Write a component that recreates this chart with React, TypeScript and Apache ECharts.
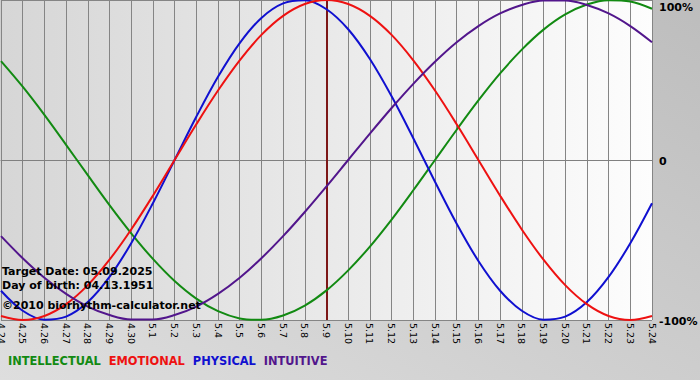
import { useEffect, useRef } from "react";
import * as echarts from "echarts";

const dates = [
  "4.24", "4.25", "4.26", "4.27", "4.28", "4.29", "4.30",
  "5.1", "5.2", "5.3", "5.4", "5.5", "5.6", "5.7", "5.8", "5.9", "5.10",
  "5.11", "5.12", "5.13", "5.14", "5.15", "5.16", "5.17", "5.18", "5.19",
  "5.20", "5.21", "5.22", "5.23", "5.24",
];

const intellectual = [
  0.618, 0.458, 0.282, 0.095, -0.095, -0.282, -0.458, -0.618, -0.756, -0.866,
  -0.945, -0.99, -0.999, -0.972, -0.91, -0.815, -0.69, -0.541, -0.372, -0.189,
  0, 0.189, 0.372, 0.541, 0.69, 0.815, 0.91, 0.972, 0.999, 0.99, 0.945,
];

const emotional = [
  -0.975, -1, -0.975, -0.901, -0.782, -0.623, -0.434, -0.223, 0, 0.223,
  0.434, 0.623, 0.782, 0.901, 0.975, 1, 0.975, 0.901, 0.782, 0.623,
  0.434, 0.223, 0, -0.223, -0.434, -0.623, -0.782, -0.901, -0.975, -1, -0.975,
];

const physical = [
  -0.817, -0.942, -0.998, -0.979, -0.888, -0.731, -0.52, -0.27, 0, 0.27,
  0.52, 0.731, 0.888, 0.979, 0.998, 0.942, 0.817, 0.631, 0.398, 0.136,
  -0.136, -0.398, -0.631, -0.817, -0.942, -0.998, -0.979, -0.888, -0.731, -0.52, -0.27,
];

const intuitive = [
  -0.476, -0.614, -0.736, -0.837, -0.916, -0.969, -0.997, -0.997, -0.969, -0.916,
  -0.837, -0.736, -0.614, -0.476, -0.325, -0.165, 0, 0.165, 0.325, 0.476,
  0.614, 0.736, 0.837, 0.916, 0.969, 0.997, 0.997, 0.969, 0.916, 0.837, 0.736,
];

const seriesNames = ["INTELLECTUAL", "EMOTIONAL", "PHYSICAL", "INTUITIVE"];
const seriesColors = ["#128a12", "#ee1111", "#1010d0", "#52168c"];
const richKeys = ["g", "r", "b", "p"];
const targetDate = "5.9";
const infoLines = [
  "Target Date: 05.09.2025",
  "Day of birth: 04.13.1951",
  "©2010 biorhythm-calculator.net",
];

const FONT = "DejaVu Sans";

export default function App() {
  const ref = useRef<HTMLDivElement>(null);

  useEffect(() => {
    if (!ref.current) return;
    const chart = echarts.init(ref.current, undefined, { renderer: "svg" });
    const dataByName: Record<string, number[]> = {
      INTELLECTUAL: intellectual,
      EMOTIONAL: emotional,
      PHYSICAL: physical,
      INTUITIVE: intuitive,
    };
    const drawOrder = ["INTELLECTUAL", "PHYSICAL", "EMOTIONAL", "INTUITIVE"];
    const series: any[] = drawOrder.map((name) => ({
      name,
      type: "line",
      data: dataByName[name],
      smooth: 0.35,
      symbol: "none",
      lineStyle: { width: 2, color: seriesColors[seriesNames.indexOf(name)] },
      itemStyle: { color: seriesColors[seriesNames.indexOf(name)] },
      z: 3,
    }));
    series[0].markLine = {
      silent: true,
      symbol: "none",
      label: { show: false },
      lineStyle: { color: "#7d1818", width: 2, type: "solid" },
      data: [{ xAxis: targetDate }],
      z: 2,
    };

    const rich: Record<string, any> = {};
    richKeys.forEach((k, i) => {
      rich[k] = {
        fill: seriesColors[i],
        color: seriesColors[i],
        fontWeight: "bold",
        fontSize: 11.4,
        fontFamily: FONT,
      };
    });
    rich.s = { fontSize: 11.4, fontFamily: FONT, fontWeight: "bold", width: 8 };

    chart.setOption({
      animation: false,
      backgroundColor: {
        type: "linear",
        x: 1, y: 0, x2: 0, y2: 1,
        colorStops: [
          { offset: 0, color: "#bdbdbd" },
          { offset: 1, color: "#dedede" },
        ],
      },
      grid: {
        left: 1,
        right: 48,
        top: 0,
        height: 320,
        outerBoundsMode: "none",
        containLabel: false,
        show: true,
        borderWidth: 0,
        backgroundColor: {
          type: "linear",
          x: 0, y: 0, x2: 1, y2: 0,
          colorStops: [
            { offset: 0, color: "#d6d6d6" },
            { offset: 1, color: "#fdfdfd" },
          ],
        },
      },
      xAxis: {
        type: "category",
        data: dates,
        boundaryGap: false,
        axisLine: { lineStyle: { color: "#808080", width: 1 } },
        axisTick: { show: true, length: 4, lineStyle: { color: "#808080" } },
        splitLine: { show: true, lineStyle: { color: "#858585", width: 1 } },
        axisLabel: {
          interval: 0,
          rotate: -90,
          margin: 3,
          fontSize: 9.5,
          color: "#000",
          fontFamily: FONT,
        },
      },
      yAxis: {
        type: "value",
        position: "right",
        min: -1,
        max: 1,
        interval: 1,
        axisLine: { show: false },
        axisTick: { show: false },
        splitLine: { show: true, lineStyle: { color: "#858585", width: 1 } },
        axisLabel: {
          margin: 7,
          color: "#000",
          fontWeight: "bold",
          fontSize: 11,
          fontFamily: FONT,
          formatter: (v: number) =>
            v === 1 ? "{a|100%}" : v === -1 ? "{b|-100%}" : "{c|0}",
          rich: {
            a: { padding: [14, 0, 0, 0], fontWeight: "bold", fontSize: 11, fontFamily: FONT, color: "#000" },
            b: { padding: [2, 0, 0, 0], fontWeight: "bold", fontSize: 11, fontFamily: FONT, color: "#000" },
            c: { padding: [2, 0, 0, 0], fontWeight: "bold", fontSize: 11, fontFamily: FONT, color: "#000" },
          },
        },
      },
      graphic: [
        ...infoLines.map((t, i) => ({
          type: "text",
          left: 2,
          top: [266, 280, 300][i],
          z: 10,
          style: {
            text: t,
            fill: "#000",
            font: `bold 11px "${FONT}"`,
          },
        })),
        {
          type: "text",
          left: 8,
          top: 355,
          z: 10,
          style: {
            text: seriesNames.map((n, i) => `{${richKeys[i]}|${n}}`).join("{s| }"),
            rich,
            font: `bold 11.4px "${FONT}"`,
          },
        },
      ],
      series,
    });
    return () => chart.dispose();
  }, []);

  return (
    <div
      ref={ref}
      style={{ position: "fixed", left: 0, top: 0, width: 700, height: 380 }}
    />
  );
}
